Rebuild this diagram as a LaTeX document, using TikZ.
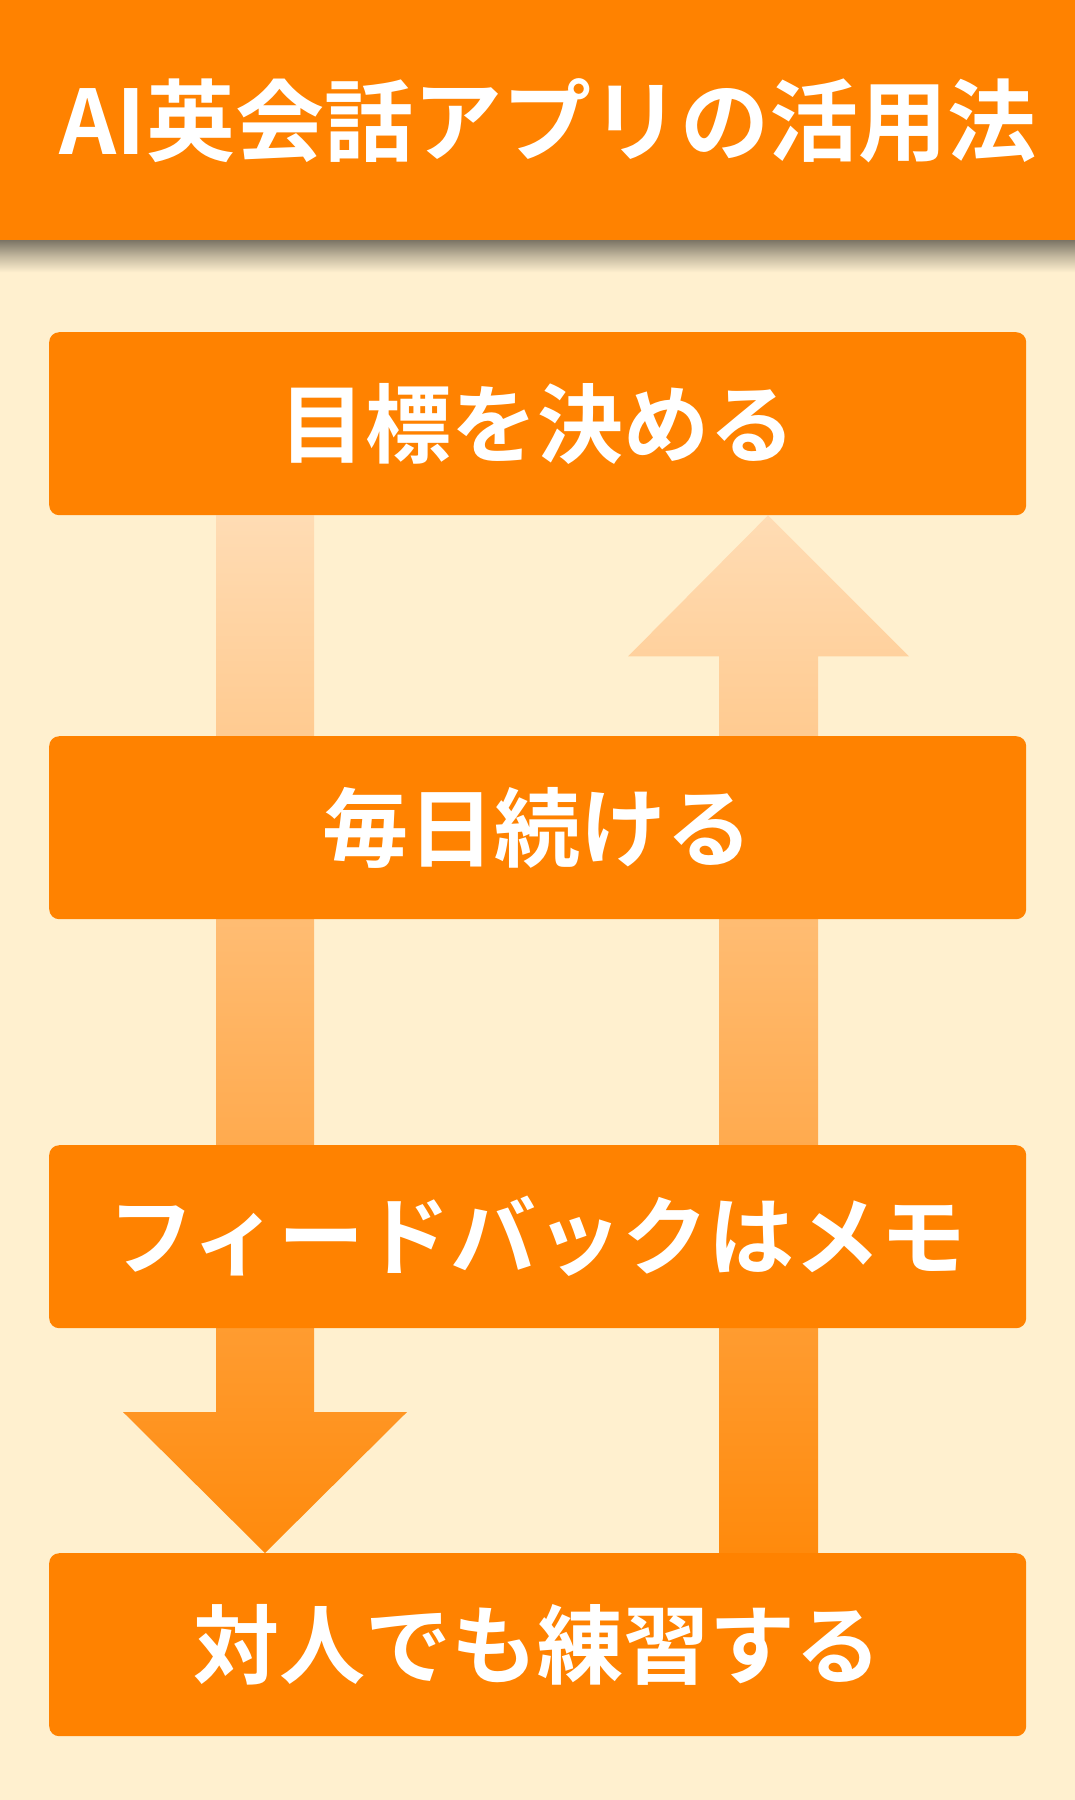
\documentclass[tikz,border=0pt]{standalone}
\usepackage{fontspec}
\setmainfont{Noto Sans CJK JP}[BoldFont={Noto Sans CJK JP Bold}]
\usetikzlibrary{calc,backgrounds}
\definecolor{bg}{RGB}{255,240,207}
\definecolor{org}{RGB}{255,130,0}
\definecolor{arrtop}{RGB}{255,220,180}
\definecolor{arrbot}{RGB}{255,138,12}
\definecolor{shadowc}{RGB}{125,118,102}
\begin{document}
\begin{tikzpicture}[x=1pt,y=-1pt,
  stepbox/.style={fill=org, rounded corners=10pt, minimum width=977pt, minimum height=183pt,
    inner sep=0pt, anchor=north west},
  steptext/.style={text=white, font=\bfseries\fontsize{86}{86}\selectfont, inner sep=0pt},
  flowarrow/.style={top color=arrtop, bottom color=arrbot, draw=none}]
\useasboundingbox (0,0) rectangle (1075,1800);
% header
\node[fill=org, minimum width=1075pt, minimum height=240pt, inner sep=0pt, anchor=north west] (hdr) at (0,0) {};
\node[text=white, font=\bfseries\fontsize{89}{89}\selectfont, inner sep=0pt] (title) at (548,121) {AI英会話アプリの活用法};
% step boxes
\node[stepbox] (b1) at (49,332) {};
\node[stepbox] (b2) at (49,736) {};
\node[stepbox] (b3) at (49,1145) {};
\node[stepbox] (b4) at (49,1553) {};
\node[steptext] (t1) at (b1.center) {目標を決める};
\node[steptext] (t2) at (b2.center) {毎日続ける};
\node[steptext] (t3) at (b3.center) {フィードバックはメモ};
\node[steptext] (t4) at (b4.center) {対人でも練習する};
\coordinate (Lx) at (265,0);
\coordinate (Rx) at (768,0);
\begin{pgfonlayer}{background}
\fill[bg] (0,0) rectangle (1075,1800);
% header shadow
\shade[top color=shadowc, bottom color=bg, middle color=shadowc!45!bg] (hdr.south west) rectangle ($(hdr.south east)+(0,32)$);
% down arrow (left)
\shade[flowarrow] ($(b1.south -| Lx)+(-49,0)$) -- ($(b1.south -| Lx)+(49,0)$)
  -- ($(b4.north -| Lx)+(49,-141)$) -- ($(b4.north -| Lx)+(142,-141)$)
  -- (b4.north -| Lx) -- ($(b4.north -| Lx)+(-142,-141)$)
  -- ($(b4.north -| Lx)+(-49,-141)$) -- cycle;
% up arrow (right)
\shade[flowarrow] (b1.south -| Rx) -- ($(b1.south -| Rx)+(141,141)$)
  -- ($(b1.south -| Rx)+(50,141)$) -- ($(b4.north -| Rx)+(50,0)$)
  -- ($(b4.north -| Rx)+(-49,0)$) -- ($(b1.south -| Rx)+(-49,141)$)
  -- ($(b1.south -| Rx)+(-140,141)$) -- cycle;
\end{pgfonlayer}
\end{tikzpicture}
\end{document}
